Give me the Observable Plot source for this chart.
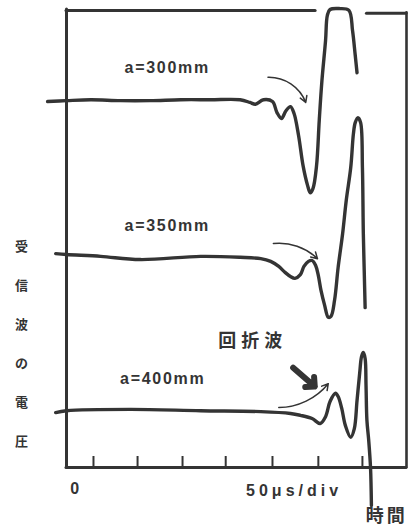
<!DOCTYPE html>
<html><head><meta charset="utf-8">
<script src="https://cdn.jsdelivr.net/npm/d3@7"></script>
<script src="https://cdn.jsdelivr.net/npm/@observablehq/plot@0.6"></script>
<style>
body{margin:0;background:#fff;}
#chart{width:414px;height:528px;overflow:hidden;}
</style></head><body><div id="chart"></div>
<script>
// time in μs (50 μs per division), voltage in divisions above the time axis
const t300 = [-21, 0, 27, 60, 93, 127, 160, 193, 204, 210, 219, 229, 234, 239, 244, 249, 253, 258, 263, 268, 271, 274, 278, 281, 284, 288, 290, 293, 304, 314, 318, 321, 323];
const v300 = [7.99, 8.01, 8.03, 8.01, 8.01, 8.03, 8.03, 8.03, 7.97, 7.93, 8.03, 7.99, 7.75, 7.62, 7.79, 7.88, 7.73, 7.25, 6.59, 6.16, 6.00, 6.09, 6.59, 7.58, 8.45, 9.32, 9.87, 10.0, 10.02, 9.98, 9.54, 9.00, 8.62];
const t350 = [-12, 0, 38, 82, 149, 193, 216, 227, 236, 243, 249, 254, 260, 264, 269, 273, 277, 280, 283, 287, 291, 294, 298, 302, 307, 311, 316, 319, 321, 324, 327, 329, 330, 331, 332];
const v350 = [4.67, 4.65, 4.61, 4.54, 4.61, 4.59, 4.56, 4.50, 4.39, 4.26, 4.17, 4.13, 4.21, 4.39, 4.50, 4.52, 4.41, 4.19, 3.86, 3.54, 3.28, 3.30, 3.65, 4.37, 5.11, 5.83, 6.55, 7.29, 7.53, 7.64, 7.53, 6.55, 5.11, 4.30, 3.49];
const t400 = [-12, 0, 71, 149, 216, 249, 260, 273, 282, 288, 293, 299, 302, 306, 310, 316, 320, 323, 326, 328, 330, 332, 333, 334, 336, 338, 339];
const v400 = [1.20, 1.24, 1.27, 1.24, 1.22, 1.18, 1.14, 1.07, 0.96, 1.11, 1.44, 1.62, 1.55, 1.29, 0.92, 0.66, 0.85, 1.46, 2.07, 2.42, 2.51, 2.38, 1.79, 1.03, 0.59, 0, -0.83];

const seriesNames = ["a=300mm", "a=350mm", "a=400mm"];
const labelT = [112, 112, 107];
const labelV = [8.73, 5.28, 1.94];

// tick marks on the time axis (μs)
const tickTimes = [30, 79, 129, 177, 229, 280, 329];

// small arrows: start/end (μs, div) and bend
const arrowX1 = [224, 230, 236];
const arrowY1 = [8.52, 4.89, 1.31];
const arrowX2 = [266, 279, 291];
const arrowY2 = [7.97, 4.56, 1.83];
const arrowBend = [35, 25, -25];
// bold arrow pointing at the diffracted wave
const boldArrow = {x1: 252, y1: 2.18, x2: 276, y2: 1.77};

const yLabel = "受信波の電圧";
const xLabel = "時間";
const diffLabel = "回折波";
const scaleLabel = "50μs/div";
const zeroLabel = "0";

const INK = "#343434";
const traces = [[t300, v300], [t350, v350], [t400, v400]];
const traceData = traces.flatMap(([ts, vs], k) => ts.map((t, i) => ({series: seriesNames[k], t, v: vs[i]})));
const labelData = seriesNames.map((s, i) => ({s, t: labelT[i], v: labelV[i]}));

const LAT = "'Liberation Sans', Arial, sans-serif";
const CJK = "'Noto Sans CJK JP', 'Noto Sans CJK SC', sans-serif";

const marks = [
  // frame
  Plot.ruleX([0], {y1: 0, y2: 10, stroke: INK, strokeWidth: 3, strokeLinecap: "round"}),
  Plot.ruleY([0], {x1: 0, x2: 378, stroke: INK, strokeWidth: 3, strokeLinecap: "round"}),
  Plot.ruleX([378], {y1: 0, y2: 9.93, stroke: INK, strokeWidth: 2.6, strokeLinecap: "round"}),
  Plot.ruleY([9.98], {x1: 0, x2: 277, stroke: INK, strokeWidth: 3, strokeLinecap: "round"}),
  Plot.ruleY([9.92], {x1: 334, x2: 378, stroke: INK, strokeWidth: 3, strokeLinecap: "round"}),
  Plot.ruleX(tickTimes, {y1: 0, y2: 0.24, stroke: INK, strokeWidth: 2}),
  // traces
  Plot.line(traceData, {x: "t", y: "v", z: "series", curve: "catmull-rom", stroke: INK, strokeWidth: 3.4, strokeLinejoin: "round", strokeLinecap: "round"}),
  // arrows
  ...arrowX1.map((_, i) => Plot.arrow([i], {x1: arrowX1[i], y1: arrowY1[i], x2: arrowX2[i], y2: arrowY2[i], bend: arrowBend[i], stroke: INK, strokeWidth: 1.5, headLength: 7})),
  Plot.arrow([boldArrow], {x1: "x1", y1: "y1", x2: "x2", y2: "y2", stroke: INK, strokeWidth: 6, headLength: 6, headAngle: 90}),
  // labels
  Plot.text(labelData, {x: "t", y: "v", text: "s", fill: INK, fontSize: 16, fontWeight: "bold", fontFamily: LAT}),
  Plot.text([diffLabel], {x: 207, y: 2.75, fill: INK, fontSize: 18, fontWeight: "bold", fontFamily: CJK}),
  Plot.text([zeroLabel], {x: 9, y: -0.46, fill: INK, fontSize: 16, fontWeight: "bold", fontFamily: LAT}),
  Plot.text([scaleLabel], {x: 253, y: -0.50, fill: INK, fontSize: 16, fontWeight: "bold", fontFamily: LAT}),
  Plot.text([xLabel], {x: 356, y: -1.06, fill: INK, fontSize: 18, fontWeight: "bold", fontFamily: CJK}),
  Plot.text([yLabel.split("").join("\n")], {x: -50, y: 2.88, lineHeight: 3.0, fill: INK, fontSize: 13, fontWeight: "bold", fontFamily: CJK})
];

const chart = Plot.plot({
  width: 414, height: 528,
  marginLeft: 66, marginRight: 8, marginTop: 9, marginBottom: 61,
  x: {domain: [0, 378], axis: null},
  y: {domain: [0, 10], axis: null},
  style: {background: "#fff", overflow: "visible"},
  marks
});

const spacing = {"a=300mm": 1.7, "a=350mm": 1.7, "a=400mm": 1.7, "50μs/div": 4, "回折波": 5, "時間": 3};
d3.select(chart).selectAll("text").each(function() {
  const s = spacing[this.textContent];
  if (s != null) this.setAttribute("letter-spacing", s);
});
document.getElementById("chart").appendChild(chart);
</script></body></html>
